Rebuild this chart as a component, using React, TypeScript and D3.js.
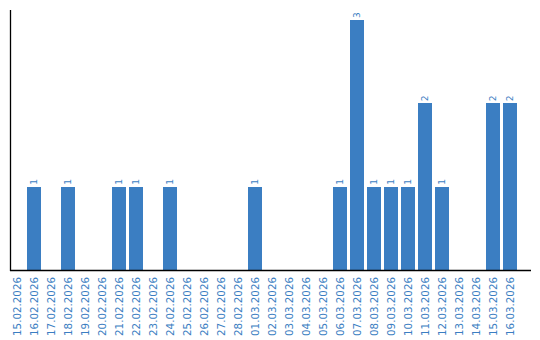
import React from "react";
import * as d3 from "d3";

const dates = [
  "15.02.2026", "16.02.2026", "17.02.2026", "18.02.2026", "19.02.2026",
  "20.02.2026", "21.02.2026", "22.02.2026", "23.02.2026", "24.02.2026",
  "25.02.2026", "26.02.2026", "27.02.2026", "28.02.2026", "01.03.2026",
  "02.03.2026", "03.03.2026", "04.03.2026", "05.03.2026", "06.03.2026",
  "07.03.2026", "08.03.2026", "09.03.2026", "10.03.2026", "11.03.2026",
  "12.03.2026", "13.03.2026", "14.03.2026", "15.03.2026", "16.03.2026",
];
const counts = [
  0, 1, 0, 1, 0,
  0, 1, 1, 0, 1,
  0, 0, 0, 0, 1,
  0, 0, 0, 0, 1,
  3, 1, 1, 1, 2,
  1, 0, 0, 2, 2,
];

const W = 540;
const H = 340;
const BLUE = "#3b7ec2";
const FONT = "'DejaVu Sans', Verdana, sans-serif";

export default function App() {
  const x = d3.scaleBand<string>().domain(dates).range([10, 517]).paddingInner(3 / 17).paddingOuter(0);
  const y = d3.scaleLinear().domain([0, 3]).range([270, 20]);
  const data = dates.map((d, i) => ({ d, v: counts[i] }));
  return (
    <svg width={W} height={H} style={{ position: "absolute", left: 0, top: 0 }}>
      <rect width={W} height={H} fill="#fff" />
      {data.filter((e) => e.v > 0).map((e) => (
        <rect key={e.d} x={x(e.d)} y={y(e.v)} width={x.bandwidth()} height={y(0) - y(e.v)} fill={BLUE} shapeRendering="crispEdges" />
      ))}
      {data.filter((e) => e.v > 0).map((e) => {
        const cx = (x(e.d) as number) + x.bandwidth() / 2;
        const ty = y(e.v) - 2;
        return (
          <text key={"l" + e.d} transform={`translate(${cx + 3},${ty}) rotate(-90)`} fontFamily={FONT} fontSize={9} fill={BLUE} textAnchor="start">
            {e.v}
          </text>
        );
      })}
      <line x1={10.5} y1={10} x2={10.5} y2={271} stroke="#000" strokeWidth={1.3} />
      <line x1={10} y1={270.5} x2={531} y2={270.5} stroke="#000" strokeWidth={1.3} />
      {dates.map((d) => {
        const cx = (x(d) as number) + x.bandwidth() / 2;
        return (
          <text key={"t" + d} transform={`translate(${cx + 3.5},${277}) rotate(-90)`} fontFamily={FONT} fontSize={10.3} fill={BLUE} textAnchor="end">
            {d}
          </text>
        );
      })}
    </svg>
  );
}
